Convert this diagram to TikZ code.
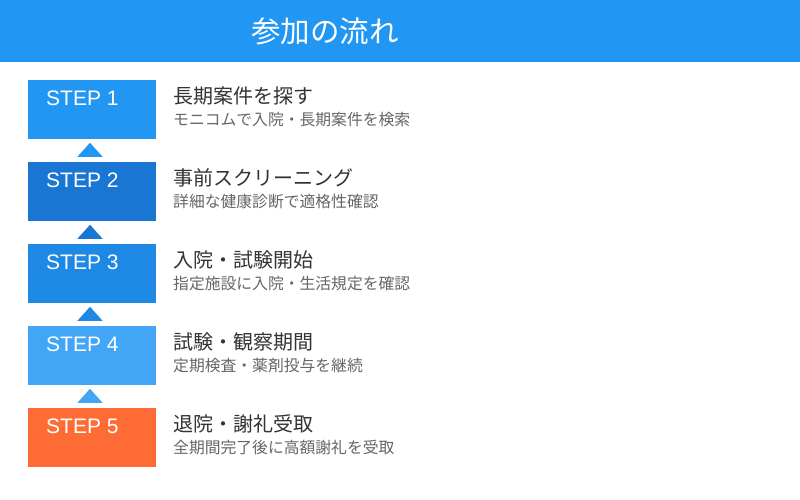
\documentclass[tikz,border=0pt]{standalone}
\usepackage{fontspec}
\setmainfont{Noto Sans CJK JP}
\newfontfamily\stepfont{Liberation Sans}
\usepackage{tikz}
\usetikzlibrary{positioning, shapes.geometric}
\usepackage{xcolor}

\definecolor{headblue}{HTML}{2196F3}
\definecolor{stepone}{HTML}{2196F3}
\definecolor{steptwo}{HTML}{1976D2}
\definecolor{stepthree}{HTML}{1E88E5}
\definecolor{stepfour}{HTML}{42A5F5}
\definecolor{stepfive}{HTML}{FF6B35}

\tikzset{
  stepbox/.style={rectangle, anchor=north west, inner sep=0, minimum width=128pt, minimum height=58.5pt},
  steplabel/.style={anchor=west, inner sep=0, text=white, font=\stepfont\fontsize{21}{21}\selectfont},
  steptitle/.style={anchor=west, inner sep=0, text=black!80, font=\fontsize{20}{20}\selectfont},
  stepnote/.style={anchor=west, inner sep=0, text=black!60, font=\fontsize{15.8}{16}\selectfont},
  uparrow/.style={isosceles triangle, shape border rotate=90, isosceles triangle apex angle=84, inner sep=0, minimum width=25pt, minimum height=14pt, anchor=south}
}

\begin{document}
\begin{tikzpicture}[x=1pt, y=-1pt]
  \useasboundingbox (0, 0) rectangle (800, 500);
  \fill[white] (0, 0) rectangle (800, 500);

  \fill[headblue] (0, 0) rectangle (800, 62.5);
  \node[text=white, font=\fontsize{29.5}{30}\selectfont, inner sep=0] (head) at (325, 31) {参加の流れ};

  \node[stepbox, fill=stepone] (s1) at (28, 80) {};
  \node[stepbox, fill=steptwo] (s2) at (28, 162) {};
  \node[stepbox, fill=stepthree] (s3) at (28, 244) {};
  \node[stepbox, fill=stepfour] (s4) at (28, 326) {};
  \node[stepbox, fill=stepfive] (s5) at (28, 408) {};

  \node[steplabel] (l1) at (46, 98.5) {STEP 1};
  \node[steplabel] (l2) at (46, 180.5) {STEP 2};
  \node[steplabel] (l3) at (46, 262.5) {STEP 3};
  \node[steplabel] (l4) at (46, 344.5) {STEP 4};
  \node[steplabel] (l5) at (46, 426.5) {STEP 5};

  \node[steptitle] (t1) at (173, 96) {長期案件を探す};
  \node[stepnote] (n1) at (173, 119.5) {モニコムで入院・長期案件を検索};
  \node[steptitle] (t2) at (173, 178) {事前スクリーニング};
  \node[stepnote] (n2) at (173, 201.5) {詳細な健康診断で適格性確認};
  \node[steptitle] (t3) at (173, 260) {入院・試験開始};
  \node[stepnote] (n3) at (173, 283.5) {指定施設に入院・生活規定を確認};
  \node[steptitle] (t4) at (173, 342) {試験・観察期間};
  \node[stepnote] (n4) at (173, 365.5) {定期検査・薬剤投与を継続};
  \node[steptitle] (t5) at (173, 424) {退院・謝礼受取};
  \node[stepnote] (n5) at (173, 447.5) {全期間完了後に高額謝礼を受取};

  \node[uparrow, fill=stepone] (a1) at (90, 157) {};
  \node[uparrow, fill=steptwo] (a2) at (90, 239) {};
  \node[uparrow, fill=stepthree] (a3) at (90, 321) {};
  \node[uparrow, fill=stepfour] (a4) at (90, 403) {};
\end{tikzpicture}
\end{document}
